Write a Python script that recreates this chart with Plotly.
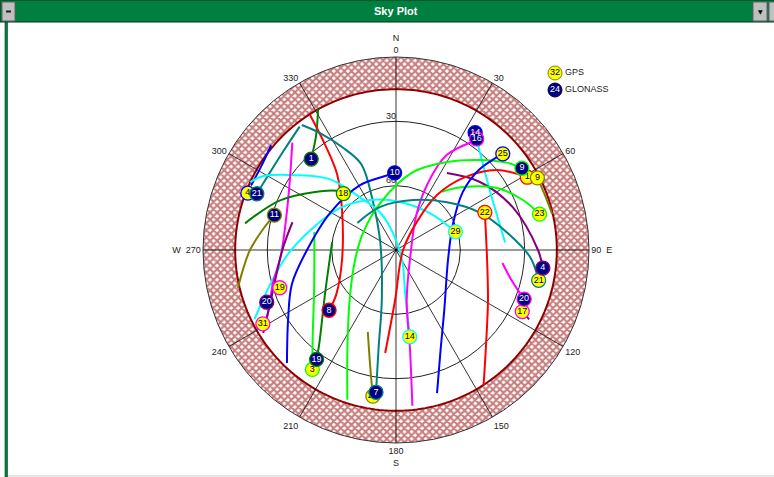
import numpy as np
import plotly.graph_objects as go

# ---------------- data (azimuth deg, elevation deg) ----------------
elev_mask = 15
elev_rings = [30, 60]
az_ticks = list(range(0, 360, 30))
az_ticktext = ["N<br>0", "30", "60", "90\u00a0\u00a0E", "120", "150",
               "180<br>S", "210", "240", "W\u00a0\u00a0270", "300", "330"]

gps_prn = [4, 18, 25, 1, 9, 23, 22, 29, 21, 17, 14, 19, 31, 3, 26]
gps_az = [291, 317, 48, 61, 63, 76, 67, 73, 102, 116, 171, 252, 241, 215, 189]
gps_el = [16, 54, 23, 20, 16, 21, 45, 61, 22, 24.5, 49, 33, 19, 22, 21]

glo_prn = [1, 21, 11, 10, 14, 16, 9, 4, 20, 20, 8, 19, 7]
glo_az = [317, 292, 286, 359, 34, 36, 57, 97, 111, 248, 228, 216, 188]
glo_el = [32, 20, 31, 54, 24, 26, 20, 21, 26, 25, 48, 27, 23]

legend_labels = ["GPS", "GLONASS"]
legend_sample_prn = [32, 24]

# satellite tracks
trk_r1_az = [331, 325, 317]
trk_r1_el = [15, 25, 32]
trk_r8_az = [327.5, 326, 322, 306.5, 259.5, 233, 228]
trk_r8_el = [15.4, 31, 45.5, 58.7, 64.4, 55, 48]
trk_r21_az = [292, 302, 312, 322]
trk_r21_el = [20, 21, 20, 17]
trk_r7_az = [323, 327, 333, 338, 335, 294, 196, 190, 188]
trk_r7_el = [17, 25, 37, 47, 64, 82, 66, 43, 23]
trk_g4_az = [310, 302, 294]
trk_g4_el = [14, 16, 16]
trk_g14_az = [295, 299, 307, 317, 327, 337, 350, 149, 168, 171]
trk_g14_el = [15, 19, 32, 45, 62, 71, 82, 84.5, 69.5, 49]
trk_g29_az = [244, 254.5, 267, 283, 307, 332.5, 5, 43, 73]
trk_g29_el = [16.6, 29, 39, 49, 57.4, 63.7, 67.5, 66.6, 61]
trk_r14_az = [37, 57, 86]
trk_r14_el = [27, 38, 39]
trk_g31_az = [316, 295, 267.5, 255, 242.6, 241]
trk_g31_el = [20.4, 34.5, 36.3, 30.6, 22.2, 19]
trk_r20w_az = [285, 270, 248, 238]
trk_r20w_el = [40, 37, 27, 17]
trk_r16_az = [36, 28, 25.5, 30, 102, 168, 172, 174]
trk_r16_el = [27, 40, 56, 71, 83, 66, 43, 17]
trk_r20e_az = [97, 105, 111]
trk_r20e_el = [40, 34, 26]
trk_g17_az = [116, 117.5]
trk_g17_el = [24.5, 20]
trk_r4_az = [33.5, 51, 70, 90, 97]
trk_r4_el = [47, 39.6, 32, 23.8, 21]
trk_r11_az = [286, 279, 270, 262.6, 256.5]
trk_r11_el = [31, 27.3, 21.9, 18, 14.2]
trk_g26_az = [199, 192, 189]
trk_g26_el = [49.6, 32.8, 21]
trk_g9_az = [63, 70, 77]
trk_g9_el = [16, 16, 15.3]
trk_r9_az = [57, 52, 43, 30, 12, 341, 297, 256, 223, 206, 198]
trk_r9_el = [20, 24, 32.6, 42.6, 53, 67, 72.7, 70.3, 58.3, 38.3, 16.6]
trk_g23_az = [76, 68.5, 58.5, 47, 38]
trk_g23_el = [21, 26.4, 34.7, 47, 55.5]
trk_g3_az = [282.5, 244, 223, 215]
trk_g3_el = [51, 47.5, 33, 22]
trk_r19_az = [277, 240, 219, 216]
trk_r19_el = [60, 52, 33, 27]
trk_g18_az = [280, 293, 305, 315, 317]
trk_g18_el = [18.5, 31, 43, 51, 54]
trk_g22_az = [67, 96, 118.5, 136.5, 147]
trk_g22_el = [45, 47.3, 41.2, 29, 15]
trk_g1_az = [61, 51.6, 43, 36.7, 36.3, 90, 181, 186]
trk_g1_el = [20, 30, 44, 58, 72.7, 86.7, 66.7, 41.7]
trk_r10_az = [359, 353, 331, 299, 270, 252, 237, 224]
trk_r10_el = [54, 55, 55.4, 54.7, 48.5, 39, 30, 16.8]
trk_g25_az = [48, 46, 49, 66, 101, 141, 156, 164]
trk_g25_el = [23, 36, 48.7, 61, 65.3, 54.2, 38.9, 20.6]
trk_g21_az = [305, 340, 19, 47, 66, 81, 93, 102]
trk_g21_el = [68, 68.6, 65.4, 57.4, 47.2, 37.6, 27.4, 22]

# ---------------- styles ----------------
RED, DGREEN, TEAL, BLUE = "#ff0000", "#008000", "#008080", "#0000ff"
CYAN, MAGENTA, PURPLE, OLIVE, LIME = "#00ffff", "#ff00ff", "#800080", "#808000", "#00ff00"
GPS_FILL, GLO_FILL = "#ffff00", "#000080"
gps_edge = [BLUE, DGREEN, BLUE, RED, OLIVE, LIME, RED, CYAN, TEAL, MAGENTA, CYAN,
            MAGENTA, MAGENTA, LIME, OLIVE]
glo_edge = [DGREEN, TEAL, OLIVE, BLUE, BLUE, MAGENTA, LIME, PURPLE, MAGENTA, PURPLE,
            RED, DGREEN, TEAL]

tracks = [
    (trk_r1_az, trk_r1_el, DGREEN), (trk_r8_az, trk_r8_el, RED),
    (trk_r21_az, trk_r21_el, TEAL), (trk_r7_az, trk_r7_el, TEAL),
    (trk_g4_az, trk_g4_el, BLUE), (trk_g14_az, trk_g14_el, CYAN),
    (trk_g29_az, trk_g29_el, CYAN), (trk_r14_az, trk_r14_el, CYAN),
    (trk_g31_az, trk_g31_el, MAGENTA), (trk_r20w_az, trk_r20w_el, PURPLE),
    (trk_r16_az, trk_r16_el, MAGENTA), (trk_r20e_az, trk_r20e_el, MAGENTA),
    (trk_g17_az, trk_g17_el, PURPLE), (trk_r4_az, trk_r4_el, PURPLE),
    (trk_r11_az, trk_r11_el, OLIVE), (trk_g26_az, trk_g26_el, OLIVE),
    (trk_g9_az, trk_g9_el, OLIVE), (trk_r9_az, trk_r9_el, LIME),
    (trk_g23_az, trk_g23_el, LIME), (trk_g3_az, trk_g3_el, LIME),
    (trk_r19_az, trk_r19_el, DGREEN), (trk_g18_az, trk_g18_el, DGREEN),
    (trk_g22_az, trk_g22_el, RED), (trk_g1_az, trk_g1_el, RED),
    (trk_r10_az, trk_r10_el, BLUE), (trk_g25_az, trk_g25_el, BLUE),
    (trk_g21_az, trk_g21_el, TEAL),
]

W, H = 774, 477
CX, CY, RP = 396, 250, 193
FONT = "Liberation Sans"


def zen(el):
    return [90 - e for e in el]


fig = go.Figure()

# hatched elevation-mask ring
ring_theta = list(range(15, 360, 30))
fig.add_trace(go.Barpolar(
    r=[elev_mask] * len(ring_theta), base=[90 - elev_mask] * len(ring_theta),
    theta=ring_theta, width=[30] * len(ring_theta),
    marker=dict(color="white", line=dict(width=0),
                pattern=dict(shape="x", fgcolor="#900000", bgcolor="white",
                             size=5, solidity=0.65)),
    hoverinfo="skip", showlegend=False))

# mask circle
circ_t = np.linspace(0, 360, 241)
fig.add_trace(go.Scatterpolar(r=[90 - elev_mask] * len(circ_t), theta=circ_t, mode="lines",
                              line=dict(color="#900000", width=2), hoverinfo="skip",
                              showlegend=False))

# azimuth spokes
sr, st = [], []
for a in az_ticks:
    sr += [0, 90, None]
    st += [a, a, None]
fig.add_trace(go.Scatterpolar(r=sr, theta=st, mode="lines",
                              line=dict(color="#000000", width=0.8), hoverinfo="skip",
                              showlegend=False))

# elevation labels
fig.add_trace(go.Scatterpolar(r=zen(elev_rings), theta=[0, 0], mode="text",
                              text=[str(e) for e in elev_rings], textposition="top left",
                              textfont=dict(family=FONT, size=9, color="#222"),
                              hoverinfo="skip", showlegend=False))

# tracks
for az, el, col in tracks:
    fig.add_trace(go.Scatterpolar(r=zen(el), theta=az, mode="lines",
                                  line=dict(color=col, width=2, shape="spline", smoothing=1),
                                  hoverinfo="skip", showlegend=False))

# satellites
fig.add_trace(go.Scatterpolar(
    r=zen(gps_el), theta=gps_az, mode="markers+text", text=[str(p) for p in gps_prn],
    textposition="middle center", textfont=dict(family=FONT, size=9, color="#000"),
    marker=dict(size=14, color=GPS_FILL, line=dict(color=gps_edge, width=1.3)),
    showlegend=False))
fig.add_trace(go.Scatterpolar(
    r=zen(glo_el), theta=glo_az, mode="markers+text", text=[str(p) for p in glo_prn],
    textposition="middle center", textfont=dict(family=FONT, size=9, color="#fff"),
    marker=dict(size=14, color=GLO_FILL, line=dict(color=glo_edge, width=1.3)),
    showlegend=False))

# legend (pixel-space overlay axes)
fig.add_trace(go.Scatter(
    x=[555, 555], y=[73, 90], mode="markers+text", xaxis="x", yaxis="y",
    text=[str(p) for p in legend_sample_prn], textposition="middle center",
    textfont=dict(family=FONT, size=9, color=["#000", "#fff"]),
    marker=dict(size=14, color=[GPS_FILL, GLO_FILL], line=dict(color=["#808000", "#000040"], width=1)),
    hoverinfo="skip", showlegend=False))
fig.add_trace(go.Scatter(
    x=[565, 565], y=[73, 90], mode="text", xaxis="x", yaxis="y",
    text=legend_labels, textposition="middle right",
    textfont=dict(family=FONT, size=9, color="#222"),
    hoverinfo="skip", showlegend=False))

frame = dict(xref="x", yref="y")
shapes = [
    # title bar
    dict(type="rect", x0=0, x1=W, y0=0, y1=22, fillcolor="#008040",
         line=dict(color="#003018", width=1), layer="below", **frame),
    dict(type="rect", x0=2, x1=15, y0=2, y1=21, fillcolor="#c0c0c0",
         line=dict(color="#606060", width=1), **frame),
    dict(type="rect", x0=6, x1=11, y0=10.5, y1=12.5, fillcolor="#202020",
         line=dict(width=0), **frame),
    dict(type="rect", x0=753, x1=767, y0=2, y1=21, fillcolor="#c0c0c0",
         line=dict(color="#606060", width=1), **frame),
    dict(type="rect", x0=769, x1=778, y0=2, y1=21, fillcolor="#c0c0c0",
         line=dict(color="#606060", width=1), **frame),
    # left window border and bottom line
    dict(type="rect", x0=5, x1=7.5, y0=22, y1=H, fillcolor="#008040",
         line=dict(color="#004020", width=0.6), **frame),
    dict(type="rect", x0=8, x1=W, y0=475, y1=H, fillcolor="#e6e6e6",
         line=dict(width=0), **frame),
]

annotations = [
    dict(text="<b>Sky Plot</b>", x=396, y=11, showarrow=False,
         font=dict(family=FONT, size=11, color="white"), **frame),
    dict(text="\u25bc", x=760, y=11.5, showarrow=False,
         font=dict(family="DejaVu Sans", size=6, color="#000"), **frame),
]

fig.update_layout(
    width=W, height=H, margin=dict(l=0, r=0, t=0, b=0),
    paper_bgcolor="white", plot_bgcolor="rgba(0,0,0,0)", showlegend=False,
    font=dict(family=FONT, size=9, color="#222"),
    shapes=shapes, annotations=annotations,
    xaxis=dict(range=[0, W], domain=[0, 1], visible=False, fixedrange=True),
    yaxis=dict(range=[H, 0], domain=[0, 1], visible=False, fixedrange=True),
    polar=dict(
        domain=dict(x=[(CX - RP) / W, (CX + RP) / W], y=[1 - (CY + RP) / H, 1 - (CY - RP) / H]),
        bgcolor="white",
        radialaxis=dict(range=[0, 90], tickvals=zen(elev_rings), showticklabels=False,
                        ticks="", showline=False, gridcolor="#222", gridwidth=1),
        angularaxis=dict(rotation=90, direction="clockwise", tickmode="array",
                         tickvals=az_ticks, ticktext=az_ticktext, showgrid=False,
                         showline=True, linecolor="#333", linewidth=1, ticks="",
                         tickfont=dict(family=FONT, size=9, color="#222")),
    ),
)

fig.write_html("out.html", config={"displayModeBar": False},
               post_script="document.body.style.margin='0px';document.body.style.overflow='hidden';")
